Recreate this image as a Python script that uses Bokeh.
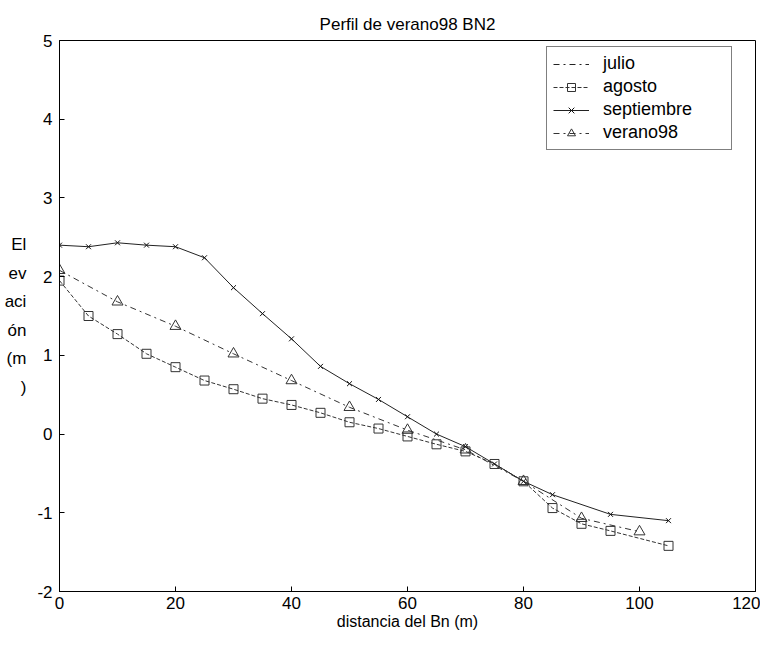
from bokeh.plotting import figure
from bokeh.models import Range1d, Legend, LegendItem, FixedTicker, PrintfTickFormatter
from bokeh.embed import file_html
from bokeh.resources import INLINE

# ---- data ----
julio_x = [0, 0]
julio_y = [4.75, 2.1]

agosto_x = [0, 5, 10, 15, 20, 25, 30, 35, 40, 45, 50, 55, 60, 65, 70, 75, 80, 85, 90, 95, 105]
agosto_y = [1.95, 1.5, 1.27, 1.02, 0.85, 0.68, 0.57, 0.45, 0.37, 0.27, 0.15, 0.07, -0.03, -0.13, -0.22,
            -0.38, -0.6, -0.94, -1.14, -1.23, -1.42]

sept_x = [0, 5, 10, 15, 20, 25, 30, 35, 40, 45, 50, 55, 60, 65, 70, 75, 80, 85, 95, 105]
sept_y = [2.4, 2.38, 2.43, 2.4, 2.38, 2.24, 1.86, 1.53, 1.21, 0.86, 0.64, 0.44, 0.22, 0.0, -0.16,
          -0.38, -0.6, -0.77, -1.02, -1.1]

ver_x = [0, 10, 20, 30, 40, 50, 60, 70, 80, 90, 100]
ver_y = [2.08, 1.68, 1.37, 1.02, 0.68, 0.34, 0.05, -0.2, -0.6, -1.07, -1.24]

x_ticks = [0, 20, 40, 60, 80, 100, 120]
y_ticks = [-2, -1, 0, 1, 2, 3, 4, 5]
ylabel_lines = ["El", "ev", "aci", "ón", "(m", ")"]

FONT = "Liberation Sans"

p = figure(width=760, height=632, output_backend="svg", toolbar_location=None,
           x_range=Range1d(0, 120), y_range=Range1d(-2, 5),
           min_border_left=59, min_border_right=5, min_border_top=40, min_border_bottom=40,
           title="Perfil de verano98 BN2")
p.title.align = "center"
p.title.text_font = FONT
p.title.text_font_size = "17px"
p.title.text_font_style = "normal"
p.title.text_color = "black"
p.title.standoff = 14

p.grid.visible = False
p.outline_line_color = "black"
p.outline_line_width = 1

for ax in (p.xaxis[0], p.yaxis[0]):
    ax.major_tick_in = 5
    ax.major_tick_out = 0
    ax.minor_tick_in = 0
    ax.minor_tick_out = 0
    ax.major_label_text_font = FONT
    ax.major_label_text_font_size = "17px"
    ax.major_label_text_color = "black"
    ax.axis_line_color = "black"
    ax.major_tick_line_color = "black"
    ax.formatter = PrintfTickFormatter(format="%d")

p.xaxis[0].ticker = FixedTicker(ticks=x_ticks)
p.yaxis[0].ticker = FixedTicker(ticks=y_ticks)
p.xaxis[0].major_label_standoff = 5
p.yaxis[0].major_label_standoff = 7
p.xaxis[0].axis_label = "distancia del Bn (m)"
p.xaxis[0].axis_label_standoff = 1
p.xaxis[0].axis_label_text_font = FONT
p.xaxis[0].axis_label_text_font_size = "16px"
p.xaxis[0].axis_label_text_font_style = "normal"
p.xaxis[0].axis_label_text_color = "black"

p.yaxis[0].axis_label = "\n".join(ylabel_lines)
p.yaxis[0].axis_label_orientation = "horizontal"
p.yaxis[0].axis_label_standoff = 8
p.yaxis[0].axis_label_text_font = FONT
p.yaxis[0].axis_label_text_font_size = "17px"
p.yaxis[0].axis_label_text_font_style = "normal"
p.yaxis[0].axis_label_text_color = "black"
p.yaxis[0].axis_label_text_line_height = 1.5

# series
r_jul = p.line(julio_x, julio_y, line_color="#222222", line_width=1, line_dash="dashdot")

r_ago_l = p.line(agosto_x, agosto_y, line_color="#333333", line_width=1, line_dash="4 2")
r_ago_m = p.scatter(agosto_x, agosto_y, marker="square", size=9, fill_color=None,
                    line_color="#333333", line_width=1)

r_sep_l = p.line(sept_x, sept_y, line_color="#222222", line_width=1)
r_sep_m = p.scatter(sept_x, sept_y, marker="x", size=7, line_color="#111111", line_width=1)

r_ver_l = p.line(ver_x, ver_y, line_color="#333333", line_width=1, line_dash="dashdot")
r_ver_m = p.scatter(ver_x, ver_y, marker="triangle", size=11, fill_color=None,
                    line_color="#333333", line_width=1)

legend = Legend(items=[
    LegendItem(label="julio", renderers=[r_jul]),
    LegendItem(label="agosto", renderers=[r_ago_l, r_ago_m]),
    LegendItem(label="septiembre", renderers=[r_sep_l, r_sep_m]),
    LegendItem(label="verano98", renderers=[r_ver_l, r_ver_m]),
], location=(487, 441))
legend.label_text_font = FONT
legend.label_text_font_size = "18px"
legend.label_text_color = "black"
legend.border_line_color = "black"
legend.border_line_width = 1
legend.background_fill_alpha = 1
legend.glyph_width = 36
legend.spacing = 2
legend.label_height = 20
legend.glyph_height = 20
legend.label_width = 122
legend.padding = 6
legend.margin = 0
legend.label_standoff = 14
p.add_layout(legend)

open("out.html", "w").write(file_html(p, INLINE))
